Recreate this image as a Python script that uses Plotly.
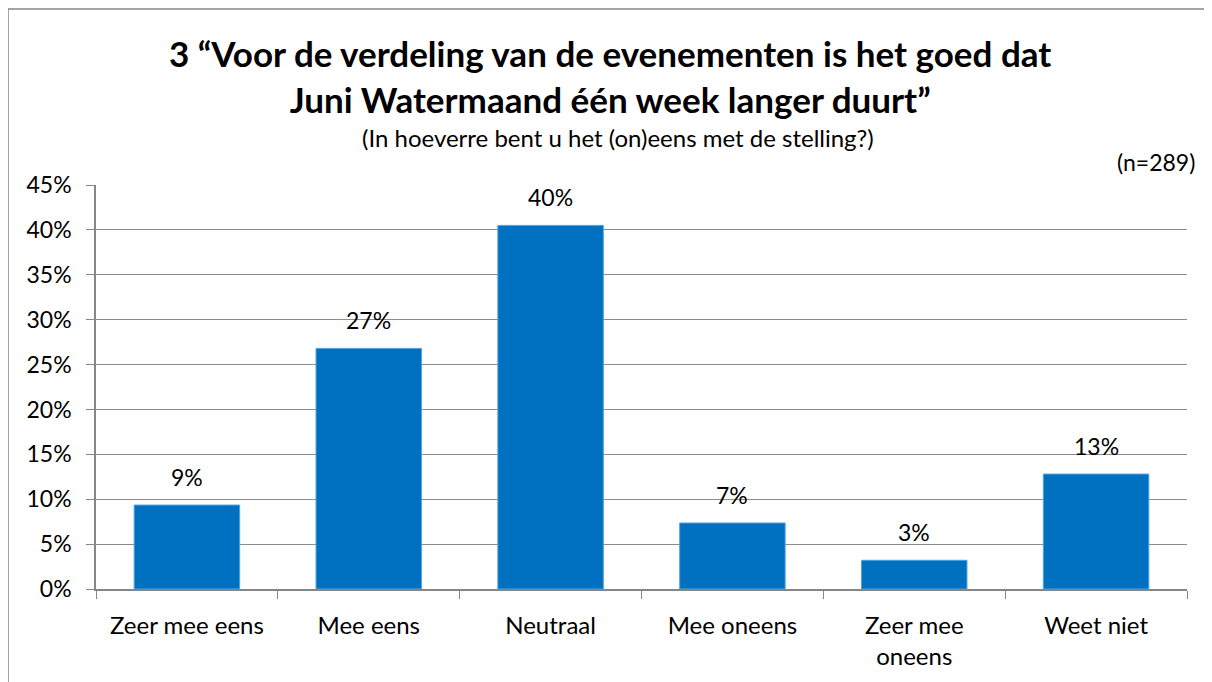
import plotly.graph_objs as go

categories = ["Zeer mee eens", "Mee eens", "Neutraal", "Mee oneens", "Zeer mee<br>oneens", "Weet niet"]
values = [9.35, 26.8, 40.5, 7.35, 3.2, 12.8]
labels = ["9%", "27%", "40%", "7%", "3%", "13%"]
y_ticks = [0, 5, 10, 15, 20, 25, 30, 35, 40, 45]

font = "Lato, 'Open Sans', sans-serif"

# plot area in figure pixels (page adds an 8px body margin)
L, R, T, B = 88, 1179, 177, 581
PW, PH = R - L, B - T


def px(x):
    return (x - L) / PW


def py(y):
    return (B - y) / PH


fig = go.Figure()
fig.add_trace(go.Bar(
    x=categories, y=values,
    marker=dict(color="#0070C0", line=dict(color="#4FA3E0", width=1)),
    hoverinfo="x+y",
))

# data labels
annos = [dict(x=c, y=v, text=t, showarrow=False, yanchor="bottom", yshift=12,
              font=dict(size=23)) for c, v, t in zip(categories, values, labels)]

annos += [
    dict(text="<b>3 “Voor de verdeling van de evenementen is het goed dat<br>Juni Watermaand één week langer duurt”</b>",
         xref="paper", yref="paper", x=px(602), y=py(68),
         yanchor="middle", showarrow=False, font=dict(size=35), align="center"),
    dict(text="(In hoeverre bent u het (on)eens met de stelling?)",
         xref="paper", yref="paper", x=px(610), y=py(130),
         yanchor="middle", showarrow=False, font=dict(size=24)),
    dict(text="(n=289)", xref="paper", yref="paper", x=px(1189),
         y=py(154), xanchor="right", yanchor="middle",
         showarrow=False, font=dict(size=23)),
]

fig.update_layout(
    width=1212, height=682,
    margin=dict(l=L, r=1212 - R, t=T, b=682 - B),
    paper_bgcolor="white", plot_bgcolor="white",
    bargap=0.42,
    showlegend=False,
    font=dict(family=font, color="black", size=22),
    xaxis=dict(
        showline=True, linecolor="#868686", linewidth=1.5,
        ticks="outside", tickson="boundaries", ticklen=8, tickcolor="#868686",
        tickfont=dict(size=24), showgrid=False, ticklabelstandoff=14,
    ),
    yaxis=dict(
        range=[0, 45], tickvals=y_ticks, ticktext=[f"{v}%" for v in y_ticks],
        showline=True, linecolor="#868686", linewidth=1.5,
        ticks="outside", ticklen=8, tickcolor="#868686",
        showgrid=True, gridcolor="#8c8c8c", gridwidth=1.3,
        tickfont=dict(size=23), zeroline=False, ticklabelstandoff=10,
    ),
    shapes=[dict(type="rect", xref="paper", yref="paper",
                 x0=px(0), x1=px(1197), y0=py(700), y1=py(1),
                 line=dict(color="#868686", width=1.5))],
    annotations=annos,
)

fig.write_html("out.html")
